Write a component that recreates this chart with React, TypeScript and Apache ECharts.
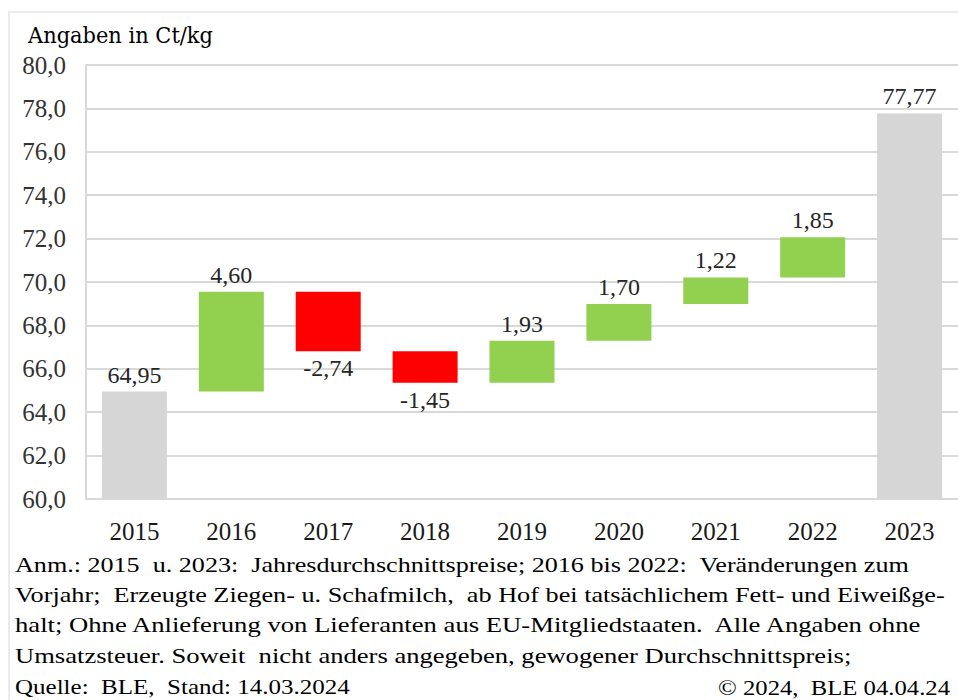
import React, { useEffect, useRef } from 'react';
import * as echarts from 'echarts';

const categories = ['2015', '2016', '2017', '2018', '2019', '2020', '2021', '2022', '2023'];
const startValue = 64.95;
const changes = [4.6, -2.74, -1.45, 1.93, 1.7, 1.22, 1.85];
const endValue = 77.77;
const yMin = 60;
const yMax = 80;
const yInterval = 2;
const titleText = 'Angaben in Ct/kg';
const footnoteLines = [
  'Anm.: 2015  u. 2023:  Jahresdurchschnittspreise; 2016 bis 2022:  Veränderungen zum',
  'Vorjahr;  Erzeugte Ziegen- u. Schafmilch,  ab Hof bei tatsächlichem Fett- und Eiweißge-',
  'halt; Ohne Anlieferung von Lieferanten aus EU-Mitgliedstaaten.  Alle Angaben ohne',
  'Umsatzsteuer. Soweit  nicht anders angegeben, gewogener Durchschnittspreis;',
];
const sourceText = 'Quelle:  BLE,  Stand: 14.03.2024';
const copyrightText = '© 2024,  BLE 04.04.24';

const fmt = (v: number) => v.toFixed(2).replace('.', ',');
const F_TITLE = 'DejaVu Serif';
const F_FOOT = 'Times New Roman';
const F_AXIS = 'serif';
const F_LABEL = 'Liberation Serif';

function measure(text: string, size: number, fam: string): number {
  const c = document.createElement('canvas').getContext('2d');
  if (!c) return 1;
  c.font = `${size}px ${fam}`;
  return c.measureText(text).width || 1;
}

export default function App() {
  const ref = useRef<HTMLDivElement>(null);
  useEffect(() => {
    if (!ref.current) return;
    const chart = echarts.init(ref.current, undefined, { renderer: 'svg' });

    const base: number[] = [0];
    const inc: number[] = [0];
    const dec: number[] = [0];
    const totals: number[] = [startValue];
    let running = startValue;
    changes.forEach((c) => {
      base.push(c >= 0 ? running : running + c);
      inc.push(c >= 0 ? c : 0);
      dec.push(c < 0 ? -c : 0);
      totals.push(0);
      running += c;
    });
    base.push(0);
    inc.push(0);
    dec.push(0);
    totals.push(endValue);

    const labelStyle = {
      show: true,
      fontFamily: F_LABEL,
      fontSize: 24,
      color: '#262626',
      distance: 5,
    };

    const footLayout = [
      [564, 15, 895],
      [594, 15, 930],
      [624, 15, 910],
      [655, 15, 837],
    ];
    const FS = 22;
    const scaled = (text: string, x: number, y: number, w: number, align: string) => ({
      type: 'text',
      x,
      y,
      scaleX: w / measure(text, FS, F_FOOT),
      style: { text, fontFamily: F_FOOT, fontSize: FS, fill: '#000', align, verticalAlign: 'middle' },
    });

    chart.setOption({
      animation: false,
      grid: { left: 86, top: 65, width: 885, height: 434, containLabel: false },
      xAxis: {
        type: 'category',
        data: categories,
        axisLine: { show: true, lineStyle: { color: '#d9d9d9', width: 2 } },
        axisTick: { show: false },
        axisLabel: { fontFamily: F_AXIS, fontSize: 25, color: '#1a1a1a', margin: 20 },
      },
      yAxis: {
        type: 'value',
        min: yMin,
        max: yMax,
        interval: yInterval,
        axisLine: { show: true, lineStyle: { color: '#d9d9d9', width: 2 } },
        axisTick: { show: false },
        splitLine: { show: true, lineStyle: { color: '#d9d9d9', width: 2 } },
        axisLabel: {
          fontFamily: F_AXIS,
          fontSize: 25,
          color: '#333333',
          margin: 20,
          formatter: (v: number) => v.toFixed(1).replace('.', ','),
        },
      },
      series: [
        {
          name: 'base',
          type: 'bar',
          stack: 'wf',
          barWidth: 65,
          itemStyle: { color: 'rgba(0,0,0,0)' },
          data: base,
          silent: true,
        },
        {
          name: 'totals',
          type: 'bar',
          stack: 'wf',
          itemStyle: { color: '#d6d6d6' },
          data: totals,
          label: { ...labelStyle, position: 'top', formatter: (p: any) => (p.value ? fmt(p.value) : '') },
        },
        {
          name: 'increase',
          type: 'bar',
          stack: 'wf',
          itemStyle: { color: '#92d050' },
          data: inc,
          label: { ...labelStyle, position: 'top', formatter: (p: any) => (p.value ? fmt(p.value) : '') },
        },
        {
          name: 'decrease',
          type: 'bar',
          stack: 'wf',
          itemStyle: { color: '#ff0000' },
          data: dec,
          label: { ...labelStyle, position: 'bottom', formatter: (p: any) => (p.value ? '-' + fmt(p.value) : '') },
        },
      ],
      graphic: [
        {
          type: 'rect',
          z: -10,
          shape: { x: 9, y: 12, width: 980, height: 720 },
          style: { fill: 'none', stroke: '#ebebeb', lineWidth: 2 },
        },
        {
          type: 'text',
          x: 28,
          y: 35,
          scaleX: 185 / measure(titleText, 23, F_TITLE),
          style: { text: titleText, fontFamily: F_TITLE, fontSize: 23, fill: '#000', verticalAlign: 'middle' },
        },
        ...footnoteLines.map((t, i) => scaled(t, footLayout[i][1], footLayout[i][0], footLayout[i][2], 'left')),
        scaled(sourceText, 15, 687, 335, 'left'),
        scaled(copyrightText, 950, 687, 232, 'right'),
      ],
    });
    return () => chart.dispose();
  }, []);
  return (
    <div
      ref={ref}
      style={{ position: 'absolute', left: 0, top: 0, width: 958, height: 700 }}
    />
  );
}
